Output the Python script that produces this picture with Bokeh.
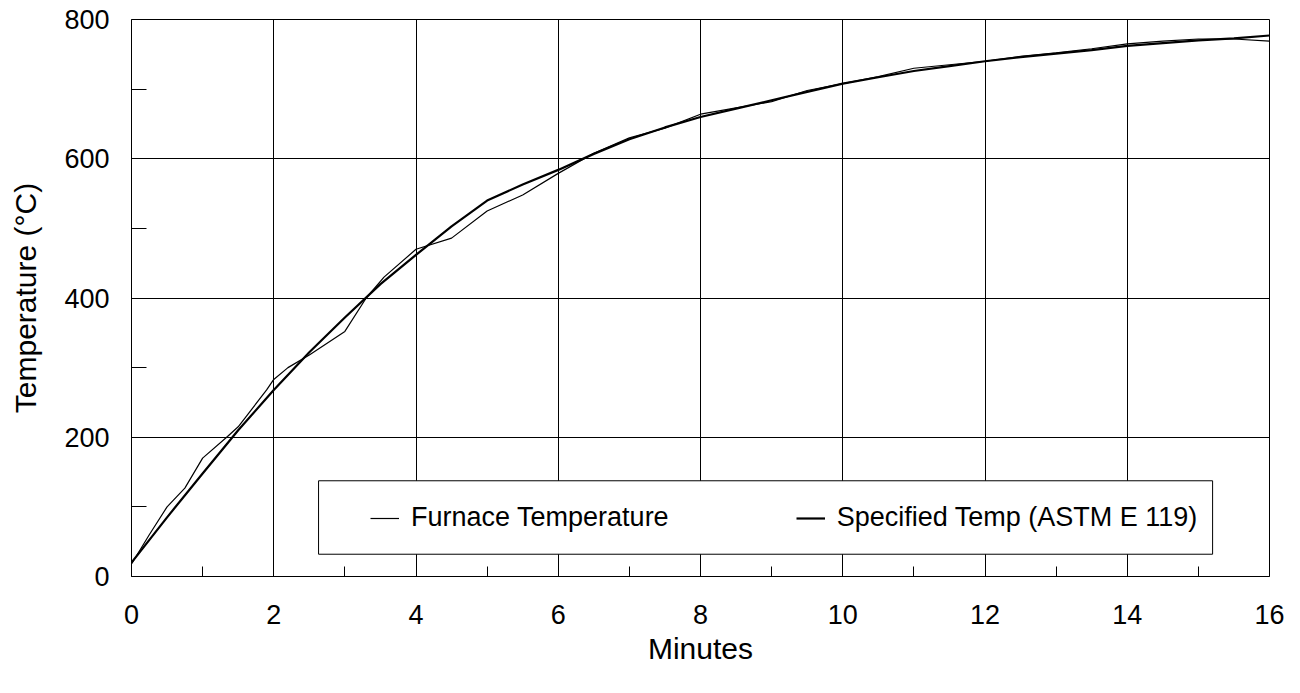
from bokeh.plotting import figure
from bokeh.models import FixedTicker, Legend, LegendItem, BoxAnnotation, Range1d
from bokeh.embed import file_html
from bokeh.resources import INLINE

# Furnace temperature (thin, measured)
furnace_min = [0, 0.25, 0.5, 0.75, 1.0, 1.35, 1.5, 1.9, 2.0, 2.2, 2.5, 3.0, 3.3, 3.55, 4.0,
               4.5, 5.0, 5.5, 6.0, 6.5, 7.0, 7.5, 8.0, 8.5, 9.0, 9.5, 10.0, 10.5, 11.0,
               11.5, 12.0, 12.5, 13.0, 13.5, 14.0, 14.5, 15.0, 15.5, 16.0]
furnace_temp = [18, 60, 100, 127, 170, 201, 215, 268, 283, 300, 318, 352, 400, 430, 470,
                486, 525, 548, 579, 608, 630, 644, 664, 673, 682, 698, 708, 718, 730,
                735, 740, 747, 752, 758, 765, 769, 772, 772, 769]

# Specified temperature (ASTM E 119), thick
spec_min = [0, 0.5, 1, 1.5, 2, 2.5, 3, 3.5, 4, 4.5, 5, 5.5, 6, 6.5, 7, 7.5, 8, 8.5, 9,
            9.5, 10, 10.5, 11, 11.5, 12, 12.5, 13, 13.5, 14, 14.5, 15, 15.5, 16]
spec_temp = [20, 85, 148, 210, 268, 322, 372, 420, 462, 503, 540, 563, 584, 607, 628, 645,
             660, 672, 684, 696, 708, 717, 726, 733, 740, 746, 751, 756, 762, 766, 770,
             773, 777]

x_major = [0, 2, 4, 6, 8, 10, 12, 14, 16]
x_minor = [1, 3, 5, 7, 9, 11, 13, 15]
y_major = [0, 200, 400, 600, 800]
y_minor = [100, 300, 500, 700]

labels = ["Furnace Temperature", "Specified Temp (ASTM E 119)"]
x_title = "Minutes"
y_title = "Temperature (°C)"

FONT = "Liberation Sans"

p = figure(width=1284, height=677, output_backend="svg", toolbar_location=None,
           x_range=Range1d(0, 16), y_range=Range1d(0, 800),
           min_border_left=131, min_border_right=15, min_border_top=19,
           min_border_bottom=101)

p.outline_line_color = "black"
p.outline_line_width = 1
p.background_fill_color = "white"
p.border_fill_color = "white"

for g in (p.xgrid, p.ygrid):
    g.grid_line_color = "black"
    g.grid_line_width = 1
p.xgrid.ticker = FixedTicker(ticks=x_major)
p.ygrid.ticker = FixedTicker(ticks=y_major)

p.xaxis.ticker = FixedTicker(ticks=x_major, minor_ticks=x_minor)
p.yaxis.ticker = FixedTicker(ticks=y_major, minor_ticks=y_minor)

for ax in (p.xaxis[0], p.yaxis[0]):
    ax.axis_line_color = "black"
    ax.major_tick_in = 0
    ax.major_tick_out = 0
    ax.minor_tick_out = 0
    ax.minor_tick_line_color = "black"
    ax.major_label_text_font = FONT
    ax.major_label_text_font_size = "27px"
    ax.major_label_text_color = "black"
    ax.axis_label_text_font = FONT
    ax.axis_label_text_font_size = "30px"
    ax.axis_label_text_font_style = "normal"
    ax.axis_label_text_color = "black"

p.xaxis.minor_tick_in = 10
p.yaxis.minor_tick_in = 15
p.xaxis.major_label_standoff = 28
p.yaxis.major_label_standoff = 22
p.xaxis.axis_label_standoff = 5
p.yaxis.axis_label_standoff = 19
p.xaxis.axis_label = x_title
p.yaxis.axis_label = y_title

r_f = p.line(furnace_min, furnace_temp, line_color="black", line_width=1.2)
r_s = p.line(spec_min, spec_temp, line_color="black", line_width=2.2)

box = BoxAnnotation(left=2.63, right=15.2, bottom=32, top=137.5,
                    fill_color="white", fill_alpha=1.0,
                    line_color="black", line_width=1, line_alpha=1.0)
p.add_layout(box)

legend = Legend(items=[LegendItem(label=labels[0], renderers=[r_f]),
                       LegendItem(label=labels[1], renderers=[r_s])],
                orientation="horizontal", location=(239, 43),
                padding=0, margin=0, spacing=127,
                glyph_width=29, label_standoff=12,
                label_text_font=FONT, label_text_font_size="27px",
                label_text_color="black",
                border_line_color=None, background_fill_alpha=0.0)
p.add_layout(legend, "center")

open("out.html", "w").write(file_html(p, INLINE))
